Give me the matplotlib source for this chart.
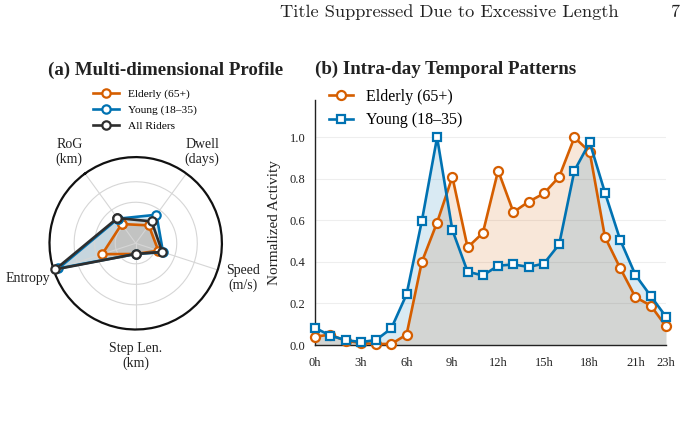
import numpy as np
import matplotlib
matplotlib.use("Agg")
import matplotlib.pyplot as plt

# ---------------- data ----------------
radar_labels = ["RoG\n(km)", "Dwell\n(days)", "Speed\n(m/s)", "Step Len.\n(km)", "Entropy"]
radar_elderly = [0.29, 0.27, 0.29, 0.13, 0.43]
radar_young = [0.37, 0.43, 0.35, 0.13, 0.99]
radar_all = [0.38, 0.33, 0.34, 0.13, 1.03]

hours = list(range(24))
elderly_act = [0.04, 0.05, 0.02, 0.01, 0.005, 0.005, 0.05, 0.40, 0.59, 0.81, 0.47, 0.54,
               0.84, 0.64, 0.69, 0.73, 0.81, 1.00, 0.93, 0.52, 0.37, 0.23, 0.19, 0.09]
young_act = [0.083, 0.045, 0.024, 0.014, 0.024, 0.08, 0.244, 0.597, 1.00, 0.554, 0.353, 0.335,
             0.382, 0.388, 0.376, 0.392, 0.485, 0.84, 0.976, 0.734, 0.506, 0.337, 0.236, 0.136]
xtick_pos = [0, 3, 6, 9, 12, 15, 18, 21, 23]
xtick_labels = ["0h", "3h", "6h", "9h", "12h", "15h", "18h", "21h", "23h"]

C_ELD = "#D55E00"
C_YNG = "#0072B2"
C_ALL = "#2E2E2E"

plt.rcParams["font.family"] = ["Liberation Serif", "DejaVu Serif"]

W, H = 692, 433
fig = plt.figure(figsize=(W / 100, H / 100), dpi=100)

def fx(px):
    return px / W

def fy(py):
    return 1 - py / H

# header
fig.text(fx(449.5), fy(12), "Title Suppressed Due to Excessive Length", family="cmr10",
         fontsize=13.2, ha="center", va="center", color="#222222")
fig.text(fx(675), fy(12), "7", family="cmr10", fontsize=13.2, ha="center", va="center",
         color="#222222")

# ---------------- (a) radar ----------------
cx, cy, R = 135.7, 243.3, 86.2
axr = fig.add_axes([fx(cx - R), fy(cy + R), 2 * R / W, 2 * R / H], projection="polar")
axr.set_theta_offset(np.deg2rad(126))
axr.set_theta_direction(-1)
n = len(radar_labels)
ang = np.arange(n) * 2 * np.pi / n
angc = np.concatenate([ang, ang[:1]])
rmax = 1.05
axr.set_ylim(0, rmax)
axr.set_rgrids([0.25, 0.5, 0.75], labels=[])
axr.set_thetagrids(np.rad2deg(ang), labels=[""] * n)
axr.grid(color="#d6d6d6", lw=0.8)
axr.spines["polar"].set_color("#111111")
axr.spines["polar"].set_linewidth(1.6)
axr.tick_params(pad=0)

for vals, col, lab, fa in [(radar_elderly, C_ELD, "Elderly (65+)", 0.15),
                           (radar_young, C_YNG, "Young (18\u201335)", 0.15),
                           (radar_all, C_ALL, "All Riders", 0.10)]:
    v = np.concatenate([vals, vals[:1]])
    axr.fill(angc, v, color=col, alpha=fa, lw=0)
    axr.plot(angc, v, color=col, lw=1.9, marker="o", ms=6, mfc="white", mew=1.6,
             label=lab, clip_on=False, zorder=3)

for a, lab in zip(ang, radar_labels):
    axr.text(a, rmax * 1.31, lab, ha="center", va="center", fontsize=10, color="#222222")

fig.text(fx(48), fy(70), "(a) Multi-dimensional Profile", fontsize=13.6, fontweight="bold",
         ha="left", va="center", color="#222222")
leg1 = fig.legend(*axr.get_legend_handles_labels(), loc="center left",
                  bbox_to_anchor=(fx(87), fy(110)), frameon=False, fontsize=8.2,
                  handlelength=2.3, labelspacing=0.55, handletextpad=0.8, borderpad=0)

# ---------------- (b) temporal ----------------
axt = fig.add_axes([fx(315), fy(345), (666 - 315) / W, (345 - 100) / H])
x = np.array(hours)
e = np.array(elderly_act)
yv = np.array(young_act)
axt.fill_between(x, 0, e, color=C_ELD, alpha=0.15, lw=0)
axt.fill_between(x, 0, yv, color=C_YNG, alpha=0.15, lw=0)
axt.plot(x, e, color=C_ELD, lw=1.9, marker="o", ms=6.5, mfc="white", mew=1.6,
         label="Elderly (65+)", clip_on=False, zorder=3)
axt.plot(x, yv, color=C_YNG, lw=1.9, marker="s", ms=6.3, mfc="white", mew=1.6,
         label="Young (18\u201335)", clip_on=False, zorder=4)
axt.set_xlim(0, 23)
axt.set_ylim(0, 1.18)
axt.set_yticks([0.0, 0.2, 0.4, 0.6, 0.8, 1.0])
axt.set_yticklabels(["0.0", "0.2", "0.4", "0.6", "0.8", "1.0"])
axt.set_xticks(xtick_pos)
axt.set_xticklabels(xtick_labels)
axt.tick_params(length=0, labelsize=9, colors="#222222", pad=7)
axt.tick_params(axis="x", pad=9)
axt.grid(axis="y", color="#eeeeee", lw=0.8)
axt.set_axisbelow(True)
for s in ["top", "right"]:
    axt.spines[s].set_visible(False)
for s in ["left", "bottom"]:
    axt.spines[s].set_color("#222222")
    axt.spines[s].set_linewidth(1.0)
axt.set_ylabel("Normalized Activity", fontsize=11, color="#222222", labelpad=6)
axt.legend(loc="upper left", bbox_to_anchor=(0.0, 1.10), frameon=False, fontsize=11.5,
           handlelength=1.55, labelspacing=0.45, handletextpad=0.8, borderpad=0.35)
fig.text(fx(315), fy(69), "(b) Intra-day Temporal Patterns", fontsize=13.6,
         fontweight="bold", ha="left", va="center", color="#222222")

fig.savefig("out.png", dpi=100)
